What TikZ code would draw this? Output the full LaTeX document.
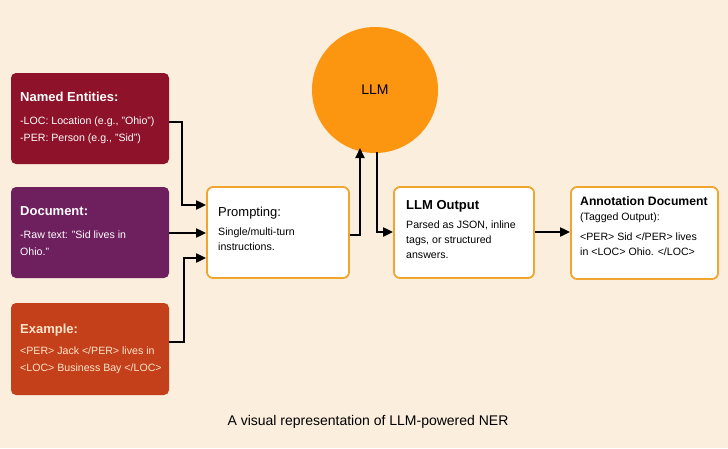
\documentclass[tikz,border=0pt]{standalone}
\usepackage{fontspec}
\setmainfont{Liberation Sans}
\usetikzlibrary{arrows.meta}
\definecolor{bg}{HTML}{FBEEDD}
\definecolor{ne}{HTML}{8E1229}
\definecolor{dc}{HTML}{6E1F5E}
\definecolor{ex}{HTML}{C4401A}
\definecolor{orb}{HTML}{F0A530}
\definecolor{llm}{HTML}{FC9510}
\begin{document}
\begin{tikzpicture}[x=1pt,y=-1pt,
 cbox/.style={text=white,align=left,anchor=north west,inner sep=0pt,font=\fontsize{10.6}{17}\selectfont},
 wbox/.style={rounded corners=6pt,fill=white,draw=orb,line width=1.8pt},
 wtxt/.style={align=left,anchor=north west,font=\fontsize{10.6}{15}\selectfont,inner sep=0pt},
 arr/.style={line width=2pt,-{Triangle[length=10pt,width=9pt]}}]
\fill[bg] (0,0) rectangle (728,448);
\useasboundingbox (0,0) rectangle (728,448);
\fill[ne,rounded corners=5pt] (11,73) rectangle (169,164);
\fill[dc,rounded corners=5pt] (11,187) rectangle (169,278);
\fill[ex,rounded corners=5pt] (11,303) rectangle (169,395);
\node[cbox] at (20,92) {\fontsize{13}{15}\selectfont\bfseries Named Entities:\\[6pt]-LOC: Location (e.g., "Ohio")\\-PER: Person (e.g., "Sid")};
\node[cbox] at (20,206) {\fontsize{13}{15}\selectfont\bfseries Document:\\[6pt]-Raw text: "Sid lives in\\Ohio."};
\node[cbox,text=orange!20!white] at (20,324) {\fontsize{13}{15}\selectfont\bfseries Example:\\[4pt]<PER> Jack </PER> lives in\\<LOC> Business Bay </LOC>};
\node[wbox,minimum width=142pt,minimum height=91pt] (pr) at (278,232.5) {};
\node[wtxt] at (218,207) {{\fontsize{13}{15}\selectfont Prompting:}\\[4pt]Single/multi-turn\\instructions.};
\node[circle,fill=llm,minimum size=126pt,inner sep=0pt,font=\fontsize{14}{16}\selectfont] (llm) at (375,90) {LLM};
\node[wbox,minimum width=140pt,minimum height=91pt] (lo) at (464,232.5) {};
\node[wtxt] at (406,200) {{\fontsize{13}{15}\selectfont\bfseries LLM Output}\\[4pt]Parsed as JSON, inline\\tags, or structured\\answers.};
\node[wbox,minimum width=147pt,minimum height=92pt] (an) at (644.5,233) {};
\node[wtxt] at (580,196) {{\fontsize{12.2}{14}\selectfont\bfseries Annotation Document}\\(Tagged Output):\\[5pt]<PER> Sid </PER> lives\\in <LOC> Ohio. </LOC>};
\node[font=\fontsize{14}{16}\selectfont] (cap) at (368,422) {A visual representation of LLM-powered NER};
\coordinate (a1) at (169,122);
\coordinate (a2) at (169,233);
\coordinate (a3) at (169,342);
\draw[arr] (a1) -| (182,205) -- (pr.west |- 0,205);
\draw[arr] (a2) -- (pr.west |- 0,233);
\draw[arr] (a3) -| (184,258) -- (pr.west |- 0,258);
\draw[arr] (pr.east |- 0,235) -| (360,148);
\draw[arr] (377,152) |- (lo.west |- 0,232);
\draw[arr] (lo.east |- 0,232) -- (an.west |- 0,232);
\end{tikzpicture}
\end{document}
